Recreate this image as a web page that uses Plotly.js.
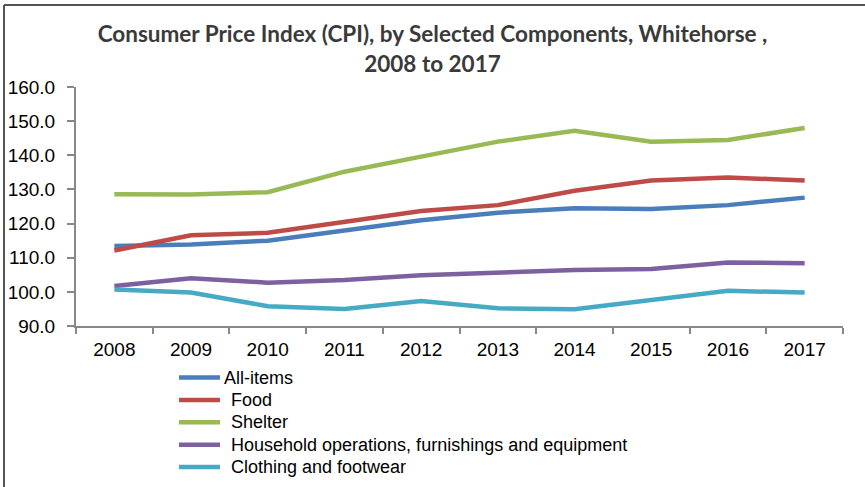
<!DOCTYPE html>
<html>
<head>
<meta charset="utf-8">
<script src="https://cdn.plot.ly/plotly-3.0.1.min.js"></script>
<style>
  html, body { margin: 0; padding: 0; background: #fff; }
  #chart { width: 865px; height: 487px; }
</style>
</head>
<body>
<div id="chart"></div>
<script>
// years on the x axis
const years = ["2008", "2009", "2010", "2011", "2012", "2013", "2014", "2015", "2016", "2017"];

// CPI values
const allItems  = [113.4, 113.9, 115.0, 118.1, 121.0, 123.2, 124.5, 124.3, 125.4, 127.6];
const food      = [112.1, 116.6, 117.3, 120.5, 123.7, 125.4, 129.6, 132.6, 133.5, 132.6];
const shelter   = [128.6, 128.5, 129.2, 135.2, 139.6, 144.0, 147.2, 144.0, 144.5, 148.0];
const household = [101.7, 104.0, 102.7, 103.5, 104.9, 105.7, 106.4, 106.7, 108.6, 108.4];
const clothing  = [100.7, 99.8, 95.8, 95.0, 97.3, 95.2, 94.9, 97.6, 100.3, 99.8];

const seriesNames = ["All-items", " Food", " Shelter", " Household operations, furnishings and equipment", " Clothing and footwear"];
const seriesColors = ["#4A7EBB", "#BE4B48", "#98B954", "#7D60A0", "#46AAC5"];
const seriesValues = [allItems, food, shelter, household, clothing];

// plot box in pixels, used to place the hand-made legend
const L = 76, T = 87, W = 767, H = 239;
function px2x(p) { return (p - L) / W; }
function px2y(p) { return (T + H - p) / H; }

let data = seriesValues.map(function (vals, i) {
    return {
        x: years,
        y: vals,
        name: seriesNames[i],
        type: "scatter",
        mode: "lines",
        line: { color: seriesColors[i], width: 4.5 },
        showlegend: false
    };
});

// legend drawn below the plot (Excel-like tight spacing)
let legendShapes = [];
let legendNotes = [];
seriesNames.forEach(function (nm, i) {
    let yy = 377.5 + i * 22.4;
    legendShapes.push({
        type: "line", xref: "paper", yref: "paper",
        x0: px2x(179), x1: px2x(220), y0: px2y(yy), y1: px2y(yy),
        line: { color: seriesColors[i], width: 4.5 }
    });
    let lead = nm.startsWith(" ");
    legendNotes.push({
        xref: "paper", yref: "paper",
        x: px2x(lead ? 229 : 222), y: px2y(yy),
        xanchor: "left", yanchor: "middle",
        text: nm.trim(),
        showarrow: false,
        font: { size: 18, color: "#000000" }
    });
});

let layout = {
    width: 865,
    height: 487,
    margin: { l: L, r: 865 - L - W, t: T, b: 487 - T - H },
    paper_bgcolor: "#ffffff",
    plot_bgcolor: "#ffffff",
    showlegend: false,
    font: { family: "Liberation Sans, Arial, sans-serif", color: "#000000" },
    title: {
        text: "Consumer Price Index (CPI), by Selected Components, Whitehorse ,<br>2008 to 2017",
        font: { family: "Lato, sans-serif", size: 22.5, color: "#3a3a3a", weight: "bold" },
        x: 0.5,
        xref: "container",
        xanchor: "center",
        y: 0.913,
        yanchor: "top",
        yref: "container"
    },
    xaxis: {
        type: "category",
        range: [-0.5, 9.5],
        tickson: "boundaries",
        ticks: "outside",
        ticklen: 6,
        tickwidth: 2,
        tickcolor: "#888888",
        ticklabelstandoff: 5,
        showline: true,
        linecolor: "#888888",
        linewidth: 2,
        showgrid: false,
        zeroline: false,
        tickfont: { size: 19 },
        fixedrange: true
    },
    yaxis: {
        range: [90, 160],
        dtick: 10,
        tickformat: ".1f",
        ticks: "outside",
        ticklen: 7,
        tickwidth: 2,
        tickcolor: "#888888",
        ticklabelstandoff: 8,
        showline: true,
        linecolor: "#888888",
        linewidth: 2,
        showgrid: false,
        zeroline: false,
        tickfont: { size: 19 },
        fixedrange: true
    },
    annotations: legendNotes,
    shapes: [
        // outer frame (left and top edges visible in the crop)
        { type: "line", xref: "paper", yref: "paper", x0: px2x(4), x1: px2x(4), y0: px2y(5), y1: px2y(490),
          line: { color: "#555555", width: 2 } },
        { type: "line", xref: "paper", yref: "paper", x0: px2x(4), x1: px2x(870), y0: px2y(5), y1: px2y(5),
          line: { color: "#555555", width: 2 } }
    ].concat(legendShapes)
};

Plotly.newPlot("chart", data, layout, { displayModeBar: false, staticPlot: true });
</script>
</body>
</html>
